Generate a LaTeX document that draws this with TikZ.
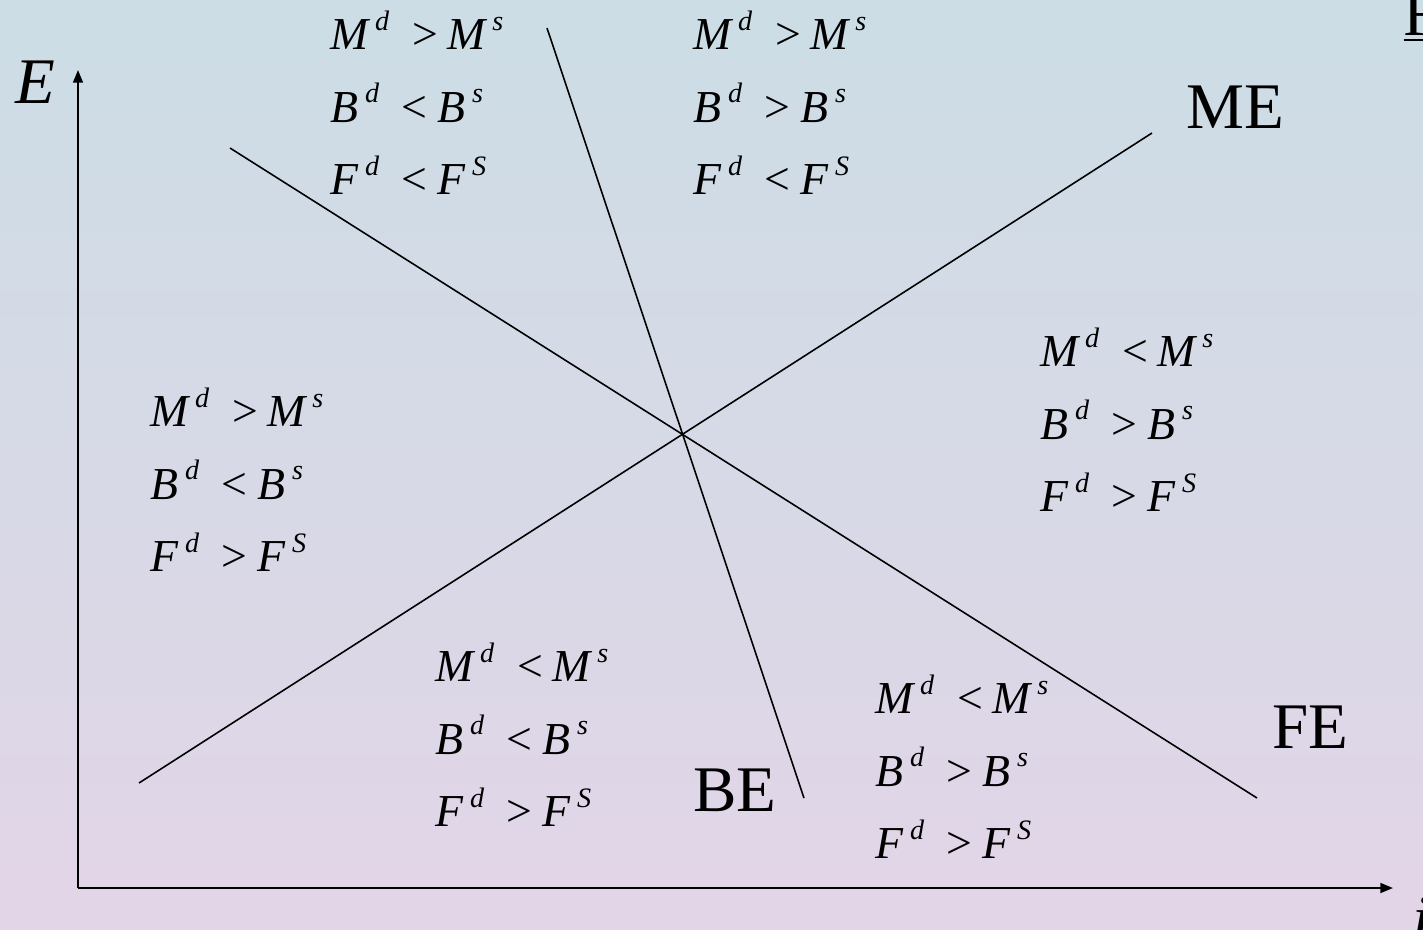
\documentclass[tikz,border=0pt]{standalone}
\usepackage{fontspec}
\setmainfont{Liberation Serif}
\usetikzlibrary{arrows.meta}
\usepackage{xcolor}
\definecolor{bgtop}{HTML}{CCDDE5}
\definecolor{bgbot}{HTML}{E2D5E7}
\newcommand{\hi}[1]{\kern0.14em\raisebox{5.6pt}{\fontsize{8pt}{8pt}\selectfont\itshape #1}}
\newcommand{\rel}[5]{#1\hi{#2}\hspace{0.5em}\textup{#3}\hspace{0.22em}#4\hi{#5}}
\tikzset{
  axis/.style     ={line width=0.6pt, -{Triangle[length=3.6pt, width=2.8pt]}},
  locus/.style    ={line width=0.45pt},
  cond/.style     ={align=left, inner sep=0pt, anchor=north west,
                    font=\fontsize{13pt}{20.6pt}\selectfont\itshape},
  curvename/.style={inner sep=0pt, font=\fontsize{18.5pt}{20pt}\selectfont},
}

\begin{document}
\begin{tikzpicture}[x=0.01cm, y=-0.01cm]
    \shade[top color=bgtop, bottom color=bgbot] (0,0) rectangle (1423,929);
    \useasboundingbox (0,0) rectangle (1423,929);
    % axes
    \coordinate (origin) at (78,888);
    \coordinate (ytop) at (78,70);
    \coordinate (xend) at (1393,888);
    \draw[axis] (origin) -- (ytop);
    \draw[axis] (origin) -- (xend);
    \node[curvename, font=\fontsize{18.5pt}{20pt}\selectfont\itshape] (elab) at (35,82) {E};
    \node[curvename, anchor=north west, font=\fontsize{18.5pt}{20pt}\selectfont\itshape] (ilab) at (1412,897) {i};
    \node[curvename, anchor=base west] (flab) at (1403,35) {\underline{F}};
    % equilibrium loci
    \coordinate (fe1) at (230,148);
    \coordinate (fe2) at (1257,798);
    \coordinate (me1) at (139,783);
    \coordinate (me2) at (1152,133);
    \coordinate (be1) at (547,28);
    \coordinate (be2) at (804,798);
    \draw[locus] (fe1) -- (fe2);
    \draw[locus] (me1) -- (me2);
    \draw[locus] (be1) -- (be2);
    \node[curvename] (me) at (1235,107) {ME};
    \node[curvename] (fe) at (1310,727) {FE};
    \node[curvename] (be) at (735,790) {BE};
    % zones
    \node[cond] (z1) at (330,10) {\rel{M}{d}{>}{M}{s}\\\rel{B}{d}{<}{B}{s}\\\rel{F}{d}{<}{F}{S}};
    \node[cond] (z2) at (693,10) {\rel{M}{d}{>}{M}{s}\\\rel{B}{d}{>}{B}{s}\\\rel{F}{d}{<}{F}{S}};
    \node[cond] (z3) at (1040,327) {\rel{M}{d}{<}{M}{s}\\\rel{B}{d}{>}{B}{s}\\\rel{F}{d}{>}{F}{S}};
    \node[cond] (z4) at (150,387) {\rel{M}{d}{>}{M}{s}\\\rel{B}{d}{<}{B}{s}\\\rel{F}{d}{>}{F}{S}};
    \node[cond] (z5) at (435,642) {\rel{M}{d}{<}{M}{s}\\\rel{B}{d}{<}{B}{s}\\\rel{F}{d}{>}{F}{S}};
    \node[cond] (z6) at (875,674) {\rel{M}{d}{<}{M}{s}\\\rel{B}{d}{>}{B}{s}\\\rel{F}{d}{>}{F}{S}};
\end{tikzpicture}
\end{document}
